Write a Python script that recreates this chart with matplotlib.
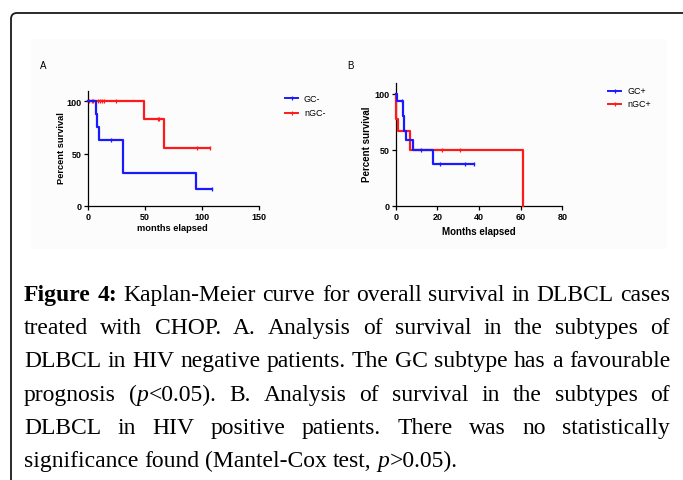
import re

import matplotlib
matplotlib.use("Agg")
import matplotlib.pyplot as plt
from matplotlib.lines import Line2D
from matplotlib.path import Path
from matplotlib.patches import PathPatch, Rectangle

W, H = 683, 481
DPI = 100

# --- Panel A: HIV negative (GC- vs nGC-) ---
a_gc_t = [0, 7.3, 8.5, 9.8, 31.3, 94.7, 108.8]
a_gc_s = [100, 87.5, 75.0, 62.5, 31.3, 15.6, 15.6]
a_gc_cens_t = [20.3, 108.8]
a_gc_cens_s = [62.5, 15.6]
a_ngc_t = [0, 49.1, 66.7, 107.3]
a_ngc_s = [100, 83.3, 55.6, 55.6]
a_ngc_cens_t = [1.1, 3.8, 4.9, 9.2, 11.2, 12.4, 14.2, 25.1, 61.4, 62.9, 96.2, 107.3]
a_ngc_cens_s = [100, 100, 100, 100, 100, 100, 100, 100, 83.3, 83.3, 55.6, 55.6]

# --- Panel B: HIV positive (GC+ vs nGC+) ---
b_gc_t = [0, 0.4, 3.6, 4.1, 5.1, 8.4, 18.1, 37.4]
b_gc_s = [100, 93.3, 80.0, 67.0, 59.0, 49.3, 37.0, 37.0]
b_gc_cens_t = [2.8, 12.2, 21.3, 33.1, 37.4]
b_gc_cens_s = [93.3, 49.3, 37.0, 37.0, 37.0]
b_ngc_t = [0, 0.3, 1.0, 6.8, 61.0]
b_ngc_s = [100, 77.8, 66.7, 50.0, 0]
b_ngc_cens_t = [22.2, 30.7]
b_ngc_cens_s = [50.0, 50.0]

BLUE = "#1a1aff"
RED = "#ff1a1a"

caption = [
    "**Figure** **4:** Kaplan-Meier curve for overall survival in DLBCL cases",
    "treated with CHOP. A. Analysis of survival in the subtypes of",
    "DLBCL in HIV negative patients. The GC subtype has a favourable",
    "prognosis (*p*<0.05). B. Analysis of survival in the subtypes of",
    "DLBCL in HIV positive patients. There was no statistically",
    "significance found (Mantel-Cox test, *p*>0.05).",
]


def fx(x):
    return x / W


def fy(y):
    return 1 - y / H


def km_panel(ax, curves, xmax, xticks):
    for t, s, ct, cs, color in curves:
        ax.step(t, s, where="post", color=color, lw=1.6, clip_on=False, zorder=3)
        ax.plot(ct, cs, ls="none", marker="|", ms=3.5, mew=0.9, color=color,
                clip_on=False, zorder=3)
    ax.set_xlim(0, xmax)
    ax.set_ylim(0, 110)
    ax.set_xticks(xticks)
    ax.set_yticks([0, 50, 100])
    for side in ("top", "right"):
        ax.spines[side].set_visible(False)
    for side in ("left", "bottom"):
        ax.spines[side].set_linewidth(0.9)
    ax.tick_params(direction="out", length=3, width=0.9, pad=1.5)
    for lab in ax.get_xticklabels() + ax.get_yticklabels():
        lab.set_fontsize(6.5)
        lab.set_fontweight("bold")
        lab.set_family("Liberation Sans")
    ax.patch.set_alpha(0)


def legend(fig, x0, ys, labels, colors):
    for y, lab, c in zip(ys, labels, colors):
        fig.add_artist(Line2D([fx(x0), fx(x0 + 13)], [fy(y), fy(y)], color=c, lw=1.4,
                              transform=fig.transFigure))
        fig.add_artist(Line2D([fx(x0 + 6.5)], [fy(y)], color=c, marker="|", ms=3.5,
                              mew=0.9, transform=fig.transFigure))
        fig.text(fx(x0 + 19), fy(y), lab, fontsize=6.5, va="center", ha="left",
                 family="Liberation Sans")


def justified(fig, renderer, text, y, left, right, size, last=False):
    words = text.split(" ")
    pieces = []
    for w in words:
        parts = []
        for tok in re.split(r"(\*\*[^*]+\*\*|\*[^*]+\*)", w):
            if not tok:
                continue
            if tok.startswith("**"):
                parts.append((tok[2:-2], "normal", "bold"))
            elif tok.startswith("*"):
                parts.append((tok[1:-1], "italic", "normal"))
            else:
                parts.append((tok, "normal", "normal"))
        objs = []
        for s, style, weight in parts:
            t = fig.text(0, fy(y), s, fontsize=size, family="Liberation Serif",
                         style=style, weight=weight, va="baseline", ha="left")
            objs.append((t, t.get_window_extent(renderer).width))
        pieces.append(objs)
    widths = [sum(w for _, w in objs) for objs in pieces]
    if last:
        space = fig.text(0, 0, "a a", fontsize=size, family="Liberation Serif")
        one = fig.text(0, 0, "aa", fontsize=size, family="Liberation Serif")
        gap = space.get_window_extent(renderer).width - one.get_window_extent(renderer).width
        space.remove()
        one.remove()
    else:
        gap = (right - left - sum(widths)) / (len(pieces) - 1)
    x = left
    for objs in pieces:
        for t, w in objs:
            t.set_x(fx(x))
            x += w
        x += gap


fig = plt.figure(figsize=(W / DPI, H / DPI), dpi=DPI)
fig.patch.set_facecolor("white")

# faint panel background and page frame
fig.add_artist(Rectangle((fx(31), fy(250)), fx(667) - fx(31), fy(40) - fy(250),
                         transform=fig.transFigure, color="#fcfcfc", zorder=0, lw=0))
frame = Path([(fx(11), fy(481)), (fx(11), fy(20)), (fx(11), fy(14)), (fx(17), fy(14)),
              (fx(683), fy(14))],
             [Path.MOVETO, Path.LINETO, Path.CURVE3, Path.CURVE3, Path.LINETO])
fig.add_artist(PathPatch(frame, fill=False, lw=1.3, edgecolor="#1a1a1a",
                         transform=fig.transFigure))

# panel A
ax_a = fig.add_axes([fx(87.7), fy(206.7), fx(258.7) - fx(87.7), fy(91.9) - fy(206.7)])
km_panel(ax_a, [(a_ngc_t, a_ngc_s, a_ngc_cens_t, a_ngc_cens_s, RED),
                (a_gc_t, a_gc_s, a_gc_cens_t, a_gc_cens_s, BLUE)],
         150, [0, 50, 100, 150])
ax_a.text(0.498, -0.194, "months elapsed", transform=ax_a.transAxes, ha="center",
          va="center", fontsize=6.7, weight="bold", family="Liberation Sans")
ax_a.text(-0.156, 0.511, "Percent survival", transform=ax_a.transAxes, ha="center",
          va="center", rotation=90, fontsize=6.7, weight="bold", family="Liberation Sans")
fig.text(fx(43), fy(66), "A", fontsize=7, ha="center", va="center",
         family="Liberation Sans")
legend(fig, 285, [99, 114], ["GC-", "nGC-"], [BLUE, RED])

# panel B
ax_b = fig.add_axes([fx(395.7), fy(206.7), fx(562.3) - fx(395.7), fy(83.5) - fy(206.7)])
km_panel(ax_b, [(b_ngc_t, b_ngc_s, b_ngc_cens_t, b_ngc_cens_s, RED),
                (b_gc_t, b_gc_s, b_gc_cens_t, b_gc_cens_s, BLUE)],
         80, [0, 20, 40, 60, 80])
ax_b.text(0.5, -0.203, "Months elapsed", transform=ax_b.transAxes, ha="center",
          va="center", fontsize=7, weight="bold", family="Liberation Sans")
ax_b.text(-0.174, 0.505, "Percent survival", transform=ax_b.transAxes, ha="center",
          va="center", rotation=90, fontsize=7, weight="bold", family="Liberation Sans")
fig.text(fx(350), fy(66), "B", fontsize=7, ha="center", va="center",
         family="Liberation Sans")
legend(fig, 608, [92, 105], ["GC+", "nGC+"], [BLUE, RED])

# justified caption
renderer = fig.canvas.get_renderer()
for i, line in enumerate(caption):
    justified(fig, renderer, line, 301 + 33.2 * i, 24, 670, 17,
              last=(i == len(caption) - 1))

fig.savefig("out.png", dpi=DPI, facecolor="white")
